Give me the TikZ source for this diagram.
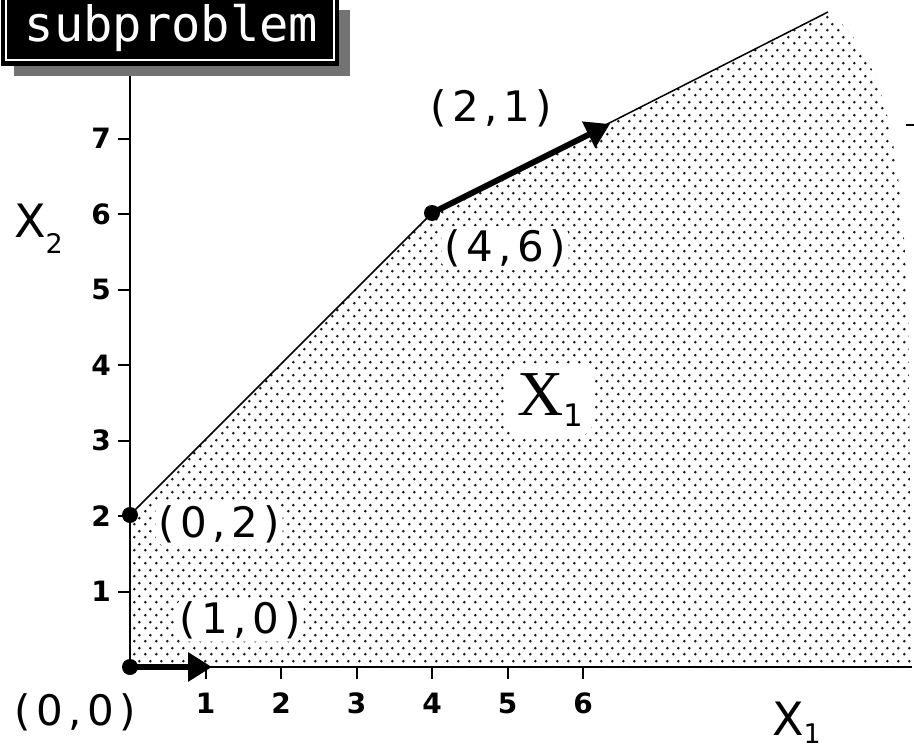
\documentclass[tikz,border=0pt]{standalone}
\usepackage{fontspec}
\setmainfont{DejaVu Sans}
\newfontfamily\serifX{Liberation Serif}
\newfontfamily\monoX{DejaVu Sans Mono}
\newfontfamily\coordfont[LetterSpace=13]{DejaVu Sans}
\usetikzlibrary{patterns,arrows.meta}
\pgfdeclarepatternformonly{mydots}{\pgfqpoint{0bp}{0bp}}{\pgfqpoint{11bp}{13bp}}{\pgfqpoint{11bp}{13bp}}{%
  \pgfpathcircle{\pgfqpoint{2.5bp}{3bp}}{1.6bp}%
  \pgfpathcircle{\pgfqpoint{8bp}{9.5bp}}{1.6bp}%
  \pgfusepath{fill}}
\begin{document}
\begin{tikzpicture}[x=1bp,y=-1bp,
  coordlabel/.style={font=\coordfont\fontsize{42bp}{46bp}\selectfont, fill=white, rounded corners=10bp, inner sep=3bp},
  ticklabel/.style={font=\bfseries\fontsize{28bp}{30bp}\selectfont, inner sep=0pt},
  axislabel/.style={inner sep=0pt, anchor=base west},
  pt/.style={fill=black},
  thickarrow/.style={line width=6bp, -{Triangle[length=24bp,width=28bp]}}]
\useasboundingbox (0,0) rectangle (914,748);
% coordinates
\coordinate (O) at (130,667);
\coordinate (P02) at (130,515);
\coordinate (P46) at (432,213);
\coordinate (Top) at (828,12);
\coordinate (XR) at (912,667);
\coordinate (YT) at (130,70);
\coordinate (ArrA) at (212,667);
\coordinate (ArrB) at (610,124);
% feasible region
\fill[pattern=mydots, pattern color=black!90] (O) -- (XR) -- (908,300) .. controls (900,170) and (893,60) .. (Top) -- (P46) -- (P02) -- cycle;
% labels with white background
\node[coordlabel] (l00) at (75,712) {(0,0)};
\node[coordlabel] (l10) at (240,620) {(1,0)};
\node[coordlabel] (l02) at (219,524) {(0,2)};
\node[coordlabel] (l46) at (505,248) {(4,6)};
\node[coordlabel] (l21) at (491,108) {(2,1)};
\node[fill=white, rounded corners=16bp, inner sep=10bp] (lX1) at (550,400) {{\serifX\fontsize{64bp}{66bp}\selectfont X}\raisebox{-11bp}{\fontsize{31bp}{33bp}\selectfont 1}};
% boundary
\draw[line width=1.5bp] (P02) -- (P46) -- (Top);
% axes
\draw[line width=2bp] (YT) -- (O) -- (XR);
\foreach \i in {1,...,6} {
  \draw[line width=2bp] (130+75.5*\i,667) -- (130+75.5*\i,679);
  \node[ticklabel] (tx\i) at (130+75.5*\i,703) {\i};
}
\foreach \i in {1,...,7} {
  \draw[line width=2bp] (118,667-75.5*\i) -- (130,667-75.5*\i);
  \node[ticklabel, anchor=east] (ty\i) at (111,667-75.5*\i) {\i};
}
\draw[line width=2bp] (906,125) -- (914,125);
% axis labels
\node[axislabel] (ax2) at (14,237) {\fontsize{46bp}{48bp}\selectfont X\raisebox{-16bp}{\fontsize{27bp}{29bp}\selectfont 2}};
\node[axislabel] (ax1) at (772,735) {\fontsize{46bp}{48bp}\selectfont X\raisebox{-8bp}{\fontsize{27bp}{29bp}\selectfont 1}};
% points
\fill[pt] (O) circle (8bp);
\fill[pt] (P02) circle (8bp);
\fill[pt] (P46) circle (8bp);
% direction arrows
\draw[thickarrow] (O) -- (ArrA);
\draw[thickarrow] (P46) -- (ArrB);
% subproblem box
\fill[black!55] (14,10) rectangle (350,76);
\fill[black] (1,-5) rectangle (339,66);
\draw[white, line width=2.5bp] (6,-5) -- (6,60) -- (334,60) -- (334,-5);
\node[text=white, anchor=base, inner sep=0pt, font=\monoX\fontsize{48.7bp}{50bp}\selectfont] (title) at (171.5,42) {subproblem};
\end{tikzpicture}
\end{document}
